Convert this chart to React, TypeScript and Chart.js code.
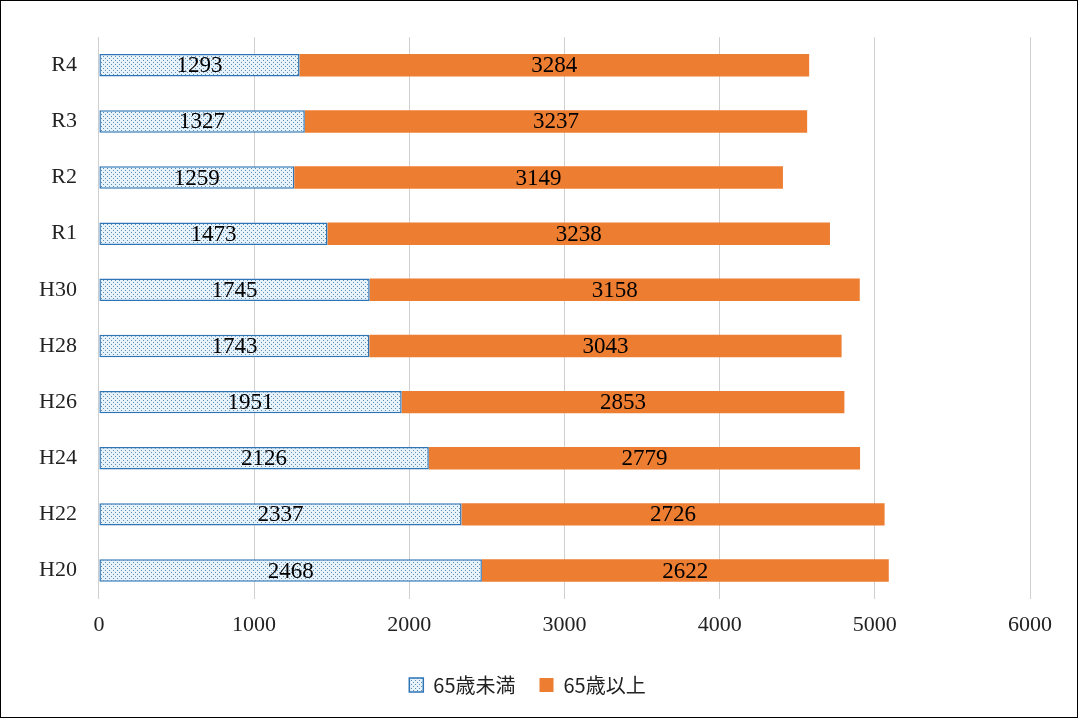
import { useEffect, useRef } from 'react'
import { Chart, registerables } from 'chart.js'
Chart.register(...registerables)

const labels = ['R4', 'R3', 'R2', 'R1', 'H30', 'H28', 'H26', 'H24', 'H22', 'H20']
const under65 = [1293, 1327, 1259, 1473, 1745, 1743, 1951, 2126, 2337, 2468]
const over65 = [3284, 3237, 3149, 3238, 3158, 3043, 2853, 2779, 2726, 2622]

const SERIF = '"Liberation Serif", "Noto Sans CJK JP", serif'

function dotPattern() {
  const c = document.createElement('canvas')
  c.width = 4; c.height = 4
  const g = c.getContext('2d')!
  g.fillStyle = '#e8f2fa'
  g.fillRect(0, 0, 4, 4)
  g.fillStyle = '#5b8fb8'
  g.fillRect(0, 0, 1, 1)
  g.fillRect(2, 2, 1, 1)
  return g.createPattern(c, 'repeat')!
}

const valueLabels = {
  id: 'valueLabels',
  afterDatasetsDraw(chart: Chart) {
    const ctx = chart.ctx
    ctx.save()
    ctx.font = `23px ${SERIF}`
    ctx.fillStyle = '#000'
    ctx.textAlign = 'center'
    ctx.textBaseline = 'middle'
    chart.data.datasets.forEach((ds, i) => {
      chart.getDatasetMeta(i).data.forEach((el: any, j) => {
        const x = (el.x + el.base) / 2
        ctx.fillText(String(ds.data[j]), x, el.y + 1)
      })
    })
    ctx.restore()
  },
}

export default function App() {
  const ref = useRef<HTMLCanvasElement>(null)

  useEffect(() => {
    if (!ref.current) return
    const chart = new Chart(ref.current, {
      type: 'bar',
      data: {
        labels,
        datasets: [
          { label: '65歳未満', data: under65, backgroundColor: dotPattern(), borderColor: '#2e75b6', borderWidth: 1.5, borderSkipped: false, barPercentage: 0.4, categoryPercentage: 1 },
          { label: '65歳以上', data: over65, backgroundColor: '#ed7d31', borderWidth: 0, barPercentage: 0.4, categoryPercentage: 1 },
        ],
      },
      options: {
        indexAxis: 'y',
        animation: false,
        responsive: false,
        layout: { padding: { left: 24, right: 46, top: 16, bottom: 10 } },
        plugins: {
          tooltip: { enabled: false },
          legend: {
            position: 'bottom',
            labels: { font: { family: '"Noto Sans CJK JP", sans-serif', size: 20 }, color: '#222', boxWidth: 14, boxHeight: 14, padding: 24 },
          },
        },
        scales: {
          x: {
            stacked: true, min: 0, max: 6000,
            ticks: { stepSize: 1000, color: '#222', font: { family: SERIF, size: 22 }, padding: 13, callback: v => String(v) },
            grid: { color: '#cfcfcf', drawTicks: false },
            border: { display: false },
          },
          y: {
            stacked: true,
            ticks: { color: '#222', font: { family: SERIF, size: 22 }, padding: 14 },
            grid: { display: false },
            border: { color: '#cfcfcf' },
          },
        },
      },
      plugins: [valueLabels],
    })
    return () => chart.destroy()
  }, [])

  return (
    <div style={{ position: 'fixed', left: 0, top: 0, width: 1078, height: 718, background: '#fff', boxSizing: 'border-box', border: '1.5px solid #000' }}>
      <canvas ref={ref} width={1075} height={705} style={{ display: 'block', marginTop: 9 }} />
    </div>
  )
}
